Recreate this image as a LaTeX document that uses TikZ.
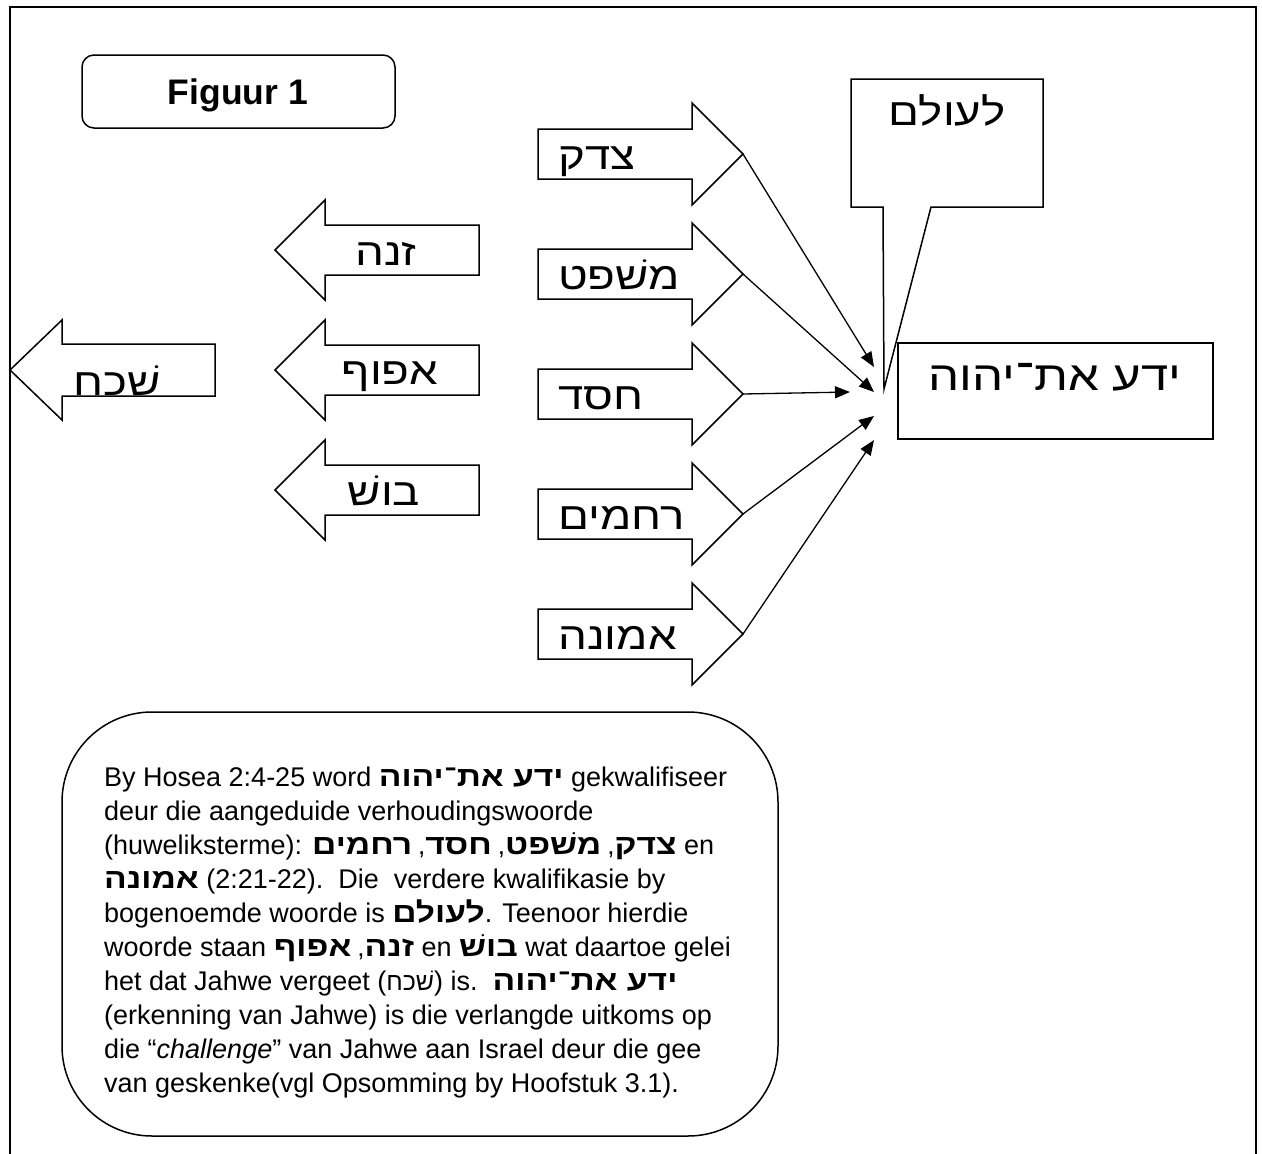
\documentclass[tikz,border=0pt]{standalone}
\usepackage{fontspec}
\setmainfont{Liberation Sans}
\newfontfamily\hebfont[Script=Hebrew]{Liberation Sans}
\newfontfamily\hebwide[Script=Hebrew,FakeStretch=1.2]{Liberation Sans}
\TeXXeTstate=1
\usetikzlibrary{arrows.meta}
\newcommand\hebw[1]{{\hebwide\beginR #1\endR}}
\newcommand\hebB[1]{{\hebwide\bfseries\fontsize{28}{28}\selectfont\beginR #1\endR}}
\newcommand\hebS[1]{{\hebfont\fontsize{25}{25}\selectfont\beginR #1\endR}}
\newcommand\hsep{{\mdseries\hebfont\fontsize{26}{26}\selectfont,}\hspace{6pt}}
\begin{document}
\begin{tikzpicture}[x=1pt,y=-1pt,
  shp/.style={draw=black,line width=1.5pt,line join=miter},
  lbl/.style={inner sep=0pt,font=\fontsize{38}{38}\selectfont},
  txt/.style={inner sep=0pt,anchor=base west,font=\fontsize{27}{30}\selectfont},
  conn/.style={line width=1.3pt,-{Triangle[length=15pt,width=12pt]}}]
\useasboundingbox (0,0) rectangle (1262,1154);
% outer frame (open at the bottom)
\draw[line width=2.4pt] (10,1160) -- (10,7) -- (1256,7) -- (1256,1160);
% title
\draw[shp,rounded corners=12pt] (82,55) rectangle (395,128);
\node[inner sep=0pt,font=\bfseries\fontsize{35.5}{36}\selectfont,anchor=base] (title) at (238,104) {Figuur 1};
% right-pointing arrows
\foreach \c/\nm in {154/a,274/b,394/c,514/d,634/e}{
  \draw[shp] (538,\c-25) -- (692,\c-25) -- (692,\c-51) -- (743,\c) -- (692,\c+51) -- (692,\c+25) -- (538,\c+25) -- cycle;
  \coordinate (tip\nm) at (743,\c);
}
\node[lbl,anchor=base west] (sdq) at (558,169) {\hebw{צדק}};
\node[lbl,anchor=base west] (msp) at (558,289) {\hebw{משׁפט}};
\node[lbl,anchor=base west] (hsd) at (558,409) {\hebw{חסד}};
\node[lbl,anchor=base west] (rhm) at (558,529) {\hebw{רחמים}};
\node[lbl,anchor=base west] (emn) at (558,649) {\hebw{אמונה}};
% left-pointing arrows
\foreach \c in {250,370,490}{
  \draw[shp] (275,\c) -- (325,\c-50) -- (325,\c-25) -- (479,\c-25) -- (479,\c+25) -- (325,\c+25) -- (325,\c+50) -- cycle;
}
\node[lbl,anchor=base] (znh) at (386,265) {\hebw{זנה}};
\node[lbl,anchor=base] (apf) at (390,384) {\hebw{אפוף}};
\node[lbl,anchor=base] (bsh) at (384,505) {\hebw{בושׁ}};
% forget arrow
\draw[shp] (10,370) -- (62,320) -- (62,344) -- (215,344) -- (215,396) -- (62,396) -- (62,420) -- cycle;
\node[lbl,anchor=base] (skh) at (117,395) {\hebw{שׁכח}};
% callout
\draw[shp] (851,79) -- (1043,79) -- (1043,207) -- (931,207) -- (884,389) -- (883,207) -- (851,207) -- cycle;
\node[lbl,anchor=base] (olm) at (947,125) {\hebw{לעולם}};
% target box
\draw[shp] (898,343) rectangle (1213,439);
\node[lbl,anchor=base,font=\fontsize{41}{41}\selectfont] (yda) at (1055,390) {\hebw{ידע את־יהוה}};
% connectors
\coordinate (ea) at (874,367);
\coordinate (eb) at (874,392);
\coordinate (ec) at (850,392);
\coordinate (ed) at (874,416);
\coordinate (ee) at (874,440);
\draw[conn] (tipa) -- (ea);
\draw[conn] (tipb) -- (eb);
\draw[conn] (tipc) -- (ec);
\draw[conn] (tipd) -- (ed);
\draw[conn] (tipe) -- (ee);
% text box
\draw[shp,rounded corners=90pt] (62,712) rectangle (778,1136);
\node[txt] (l1) at (104,786) {By Hosea 2:4-25 word \hebB{ידע את־יהוה} gekwalifiseer};
\node[txt] (l2) at (104,820) {deur die aangeduide verhoudingswoorde};
\node[txt] (l3) at (104,854) {(huweliksterme): \hebB{צדק\hsep משׁפט\hsep חסד\hsep רחמים} en};
\node[txt] (l4) at (104,888) {\hebB{אמונה} (2:21-22).\ \ Die\ \ verdere kwalifikasie by};
\node[txt] (l5) at (104,922) {bogenoemde woorde is \hebB{לעולם}. Teenoor hierdie};
\node[txt] (l6) at (104,956) {woorde staan \hebB{זנה\hsep אפוף} en \hebB{בושׁ} wat daartoe gelei};
\node[txt] (l7) at (104,990) {het dat Jahwe vergeet (\hebS{שׁכח}) is.\ \ \hebB{ידע את־יהוה}};
\node[txt] (l8) at (104,1024) {(erkenning van Jahwe) is die verlangde uitkoms op};
\node[txt] (l9) at (104,1058) {die “\textit{challenge}” van Jahwe aan Israel deur die gee};
\node[txt] (l10) at (104,1092) {van geskenke(vgl Opsomming by Hoofstuk 3.1).};
\end{tikzpicture}
\end{document}
